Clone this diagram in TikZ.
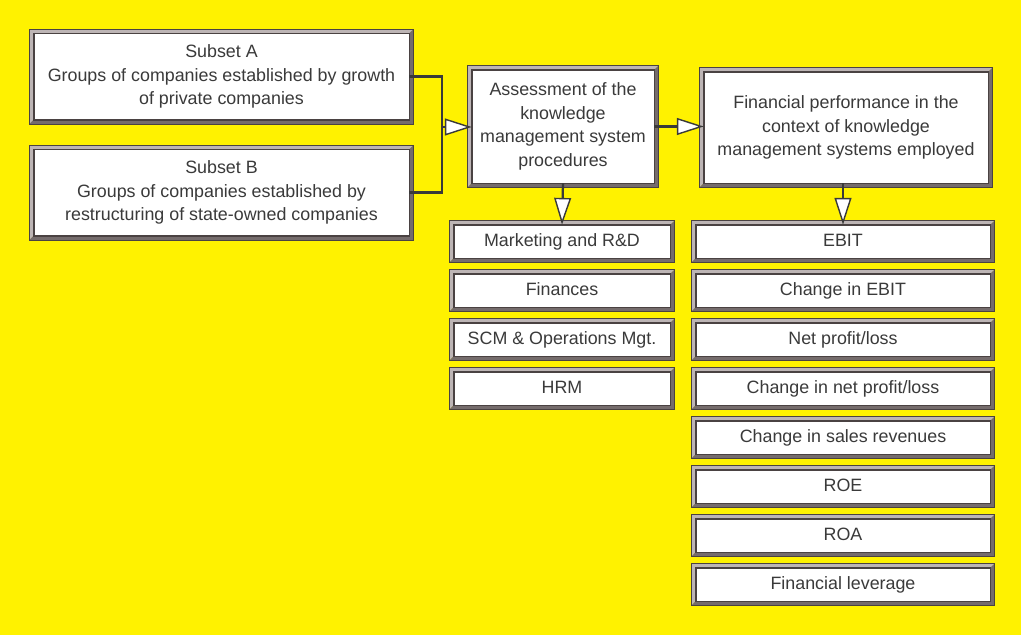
\documentclass[tikz,border=0pt]{standalone}
\usepackage{fontspec}
\setmainfont{Liberation Sans}
\usetikzlibrary{arrows.meta,calc}
\definecolor{bgyellow}{HTML}{FFF200}
\definecolor{bevlight}{HTML}{BDB5B5}
\definecolor{bevdark}{HTML}{756C6C}
\definecolor{bevline}{HTML}{4A4242}
\definecolor{txtgray}{HTML}{3A3A3A}
\tikzset{
  bevbox/.style={fill=white, draw=bevline, line width=0.5pt, inner sep=0pt,
    align=center, text=txtgray, font=\fontsize{12.7}{16.7}\selectfont,
    append after command={\pgfextra{
      \fill[bevlight] ([shift={(-0.1cm,0.1cm)}]\tikzlastnode.north west)
        -- ([shift={(0.1cm,0.1cm)}]\tikzlastnode.north east)
        -- (\tikzlastnode.north east) -- (\tikzlastnode.north west)
        -- (\tikzlastnode.south west)
        -- ([shift={(-0.1cm,-0.1cm)}]\tikzlastnode.south west) -- cycle;
      \fill[bevdark] ([shift={(0.1cm,0.1cm)}]\tikzlastnode.north east)
        -- ([shift={(0.1cm,-0.1cm)}]\tikzlastnode.south east)
        -- ([shift={(-0.1cm,-0.1cm)}]\tikzlastnode.south west)
        -- (\tikzlastnode.south west) -- (\tikzlastnode.south east)
        -- (\tikzlastnode.north east) -- cycle;
      \draw[bevline, line width=0.5pt]
        ([shift={(-0.1cm,0.1cm)}]\tikzlastnode.north west)
        rectangle ([shift={(0.1cm,-0.1cm)}]\tikzlastnode.south east);
      \draw[bevline, line width=0.5pt] (\tikzlastnode.north west)
        rectangle (\tikzlastnode.south east);
    }}},
  bigbox/.style={bevbox, minimum width=9.375cm, minimum height=2.15cm},
  smallleft/.style={bevbox, minimum width=5.4cm, minimum height=0.825cm,
    text height=9.2pt, text depth=2.6pt},
  smallright/.style={bevbox, minimum width=7.35cm, minimum height=0.825cm,
    text height=9.2pt, text depth=2.6pt},
  link/.style={draw=txtgray, line width=1.6pt},
  arrow/.style={link, -{Triangle[fill=white, length=19pt, width=12pt, line width=1pt]}}
}
\begin{document}
\begin{tikzpicture}[x=0.025cm, y=-0.025cm]
\fill[bgyellow] (0,0) rectangle (1021,635);
\useasboundingbox (0,0) rectangle (1021,635);
% left column
\node[bigbox] (subA) at (221.5,76.5) {Subset A\\Groups of companies established by growth\\of private companies};
\node[bigbox] (subB) at (221.5,192.5) {Subset B\\Groups of companies established by\\restructuring of state-owned companies};
% middle and right heads
\node[bevbox, minimum width=4.55cm, minimum height=2.825cm] (assess) at (563,126.5)
  {Assessment of the\\knowledge\\management system\\procedures};
\node[bevbox, minimum width=7.1cm, minimum height=2.775cm] (perf) at (846,127.5)
  {Financial performance in the\\context of knowledge\\management systems employed};
% lists
\foreach \t [count=\i] in {Marketing and R\&D, Finances, SCM \& Operations Mgt., HRM}
  \node[smallleft] (area\i) at (562,{241.5+49*(\i-1)}) {\t};
\foreach \t [count=\i] in {EBIT, Change in EBIT, Net profit/loss, Change in net profit/loss,
    Change in sales revenues, ROE, ROA, Financial leverage}
  \node[smallright] (ind\i) at (843,{241.5+49*(\i-1)}) {\t};
% connectors
\coordinate (join) at (442,127);
\draw[link] (subA.east) -| (join) |- (subB.east);
\draw[arrow] (join) -- (join -| assess.west);
\draw[arrow] (assess.east) -- (assess.east -| perf.west);
\draw[arrow] (assess.south) -- (area1.north);
\draw[arrow] (ind1.north |- perf.south) -- (ind1.north);
\end{tikzpicture}
\end{document}
